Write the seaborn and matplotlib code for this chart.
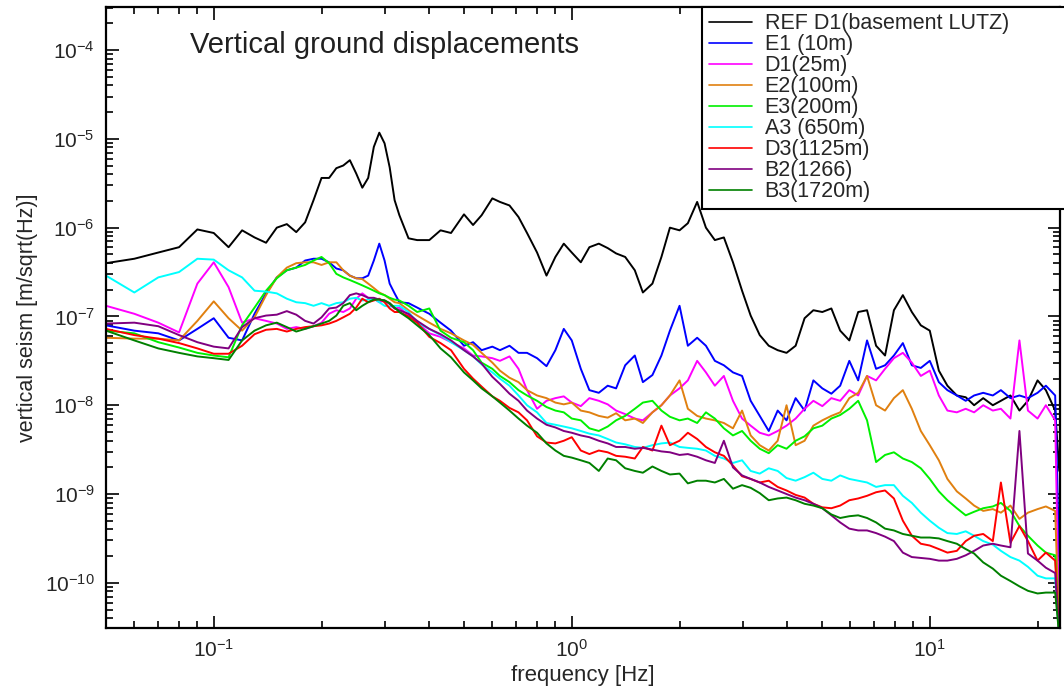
import numpy as np
import pandas as pd
import matplotlib
matplotlib.use("Agg")
import matplotlib.pyplot as plt
import seaborn as sns
from matplotlib.ticker import FixedLocator, NullFormatter, LogFormatterMathtext

# --- data (log10 of amplitude, m/sqrt(Hz)) ---

freq_hz = [0.05, 0.06, 0.07, 0.08, 0.09, 0.10, 0.11, 0.12, 0.13, 0.14,
           0.15, 0.16, 0.17, 0.18, 0.19, 0.20, 0.21, 0.22, 0.23, 0.24,
           0.25, 0.26, 0.27, 0.28, 0.29, 0.30, 0.31, 0.32, 0.33, 0.35,
           0.37, 0.40,
           0.43, 0.46, 0.50, 0.53, 0.56, 0.60, 0.63, 0.67, 0.71, 0.75,
           0.80, 0.85, 0.90, 0.95, 1.0, 1.06, 1.12, 1.19, 1.26, 1.33,
           1.41, 1.5, 1.58, 1.68, 1.78, 1.88, 2.0, 2.11, 2.24, 2.37,
           2.51, 2.66, 2.82, 2.99, 3.16, 3.35, 3.55, 3.76, 3.98, 4.22,
           4.47, 4.73, 5.01, 5.31, 5.62, 5.96, 6.31, 6.68, 7.08, 7.5,
           7.94, 8.41, 8.91, 9.44, 10.0, 10.6, 11.2, 11.9, 12.6, 13.3,
           14.1, 15.0, 15.8, 16.8, 17.8, 18.8, 20.0, 21.1, 22.4, 23.0]

ref_d1 = [-6.40, -6.35, -6.28, -6.22, -6.02, -6.06, -6.22, -6.03, -6.11, -6.17,
          -6.00, -5.96, -6.05, -5.94, -5.69, -5.44, -5.44, -5.33, -5.30, -5.24,
          -5.39, -5.55, -5.44, -5.09, -4.93, -5.05, -5.32, -5.69, -5.86, -6.12,
          -6.14, -6.14,
          -6.03, -6.06, -5.85, -5.97, -5.86, -5.67, -5.71, -5.75, -5.88, -6.06,
          -6.28, -6.54, -6.33, -6.18, -6.28, -6.39, -6.22, -6.18, -6.23, -6.29,
          -6.33, -6.48, -6.73, -6.63, -6.33, -6.00, -6.03, -5.95, -5.71, -6.00,
          -6.14, -6.11, -6.39, -6.71, -6.99, -7.21, -7.33, -7.38, -7.41, -7.33,
          -7.02, -6.93, -6.95, -6.91, -7.16, -7.27, -6.95, -6.93, -7.33, -7.44,
          -6.93, -6.76, -6.95, -7.10, -7.16, -7.61, -7.78, -7.89, -7.91, -8.00,
          -7.92, -8.00, -7.95, -7.89, -8.06, -7.95, -7.72, -7.83, -8.06, -8.74]

e1_10m = [-7.10, -7.16, -7.19, -7.27, -7.14, -7.02, -7.24, -7.27, -6.97, -6.74,
          -6.56, -6.48, -6.45, -6.37, -6.35, -6.35, -6.39, -6.46, -6.48, -6.54,
          -6.57, -6.57, -6.54, -6.37, -6.18, -6.37, -6.63, -6.74, -6.84, -6.85,
          -6.90, -6.97,
          -7.07, -7.16, -7.33, -7.29, -7.38, -7.34, -7.38, -7.33, -7.41, -7.41,
          -7.47, -7.56, -7.38, -7.14, -7.27, -7.59, -7.83, -7.86, -7.78, -7.81,
          -7.55, -7.44, -7.74, -7.66, -7.44, -7.16, -6.88, -7.33, -7.24, -7.33,
          -7.50, -7.55, -7.63, -7.67, -7.95, -8.12, -8.29, -8.06, -8.17, -7.92,
          -8.06, -7.72, -7.81, -7.87, -7.78, -7.50, -7.72, -7.27, -7.59, -7.55,
          -7.44, -7.30, -7.55, -7.58, -7.50, -7.74, -7.83, -7.89, -7.95, -7.89,
          -7.86, -7.89, -7.83, -7.92, -7.89, -7.92, -7.86, -7.78, -7.89, -9.75]

d1_25m = [-6.88, -6.97, -7.07, -7.18, -6.63, -6.39, -6.67, -7.07, -7.02, -7.05,
          -7.08, -7.14, -7.12, -7.14, -7.11, -7.07, -6.97, -6.93, -6.95, -6.91,
          -6.80, -6.74, -6.79, -6.80, -6.84, -6.82, -6.85, -6.91, -6.90, -6.99,
          -7.07, -7.19,
          -7.23, -7.29, -7.36, -7.44, -7.45, -7.47, -7.50, -7.45, -7.59, -7.83,
          -8.04, -7.95, -7.92, -7.90, -7.97, -8.01, -7.92, -7.95, -7.99, -8.06,
          -8.10, -8.15, -8.17, -8.08, -8.00, -7.89, -7.81, -7.72, -7.50, -7.63,
          -7.78, -7.67, -7.95, -8.15, -8.23, -8.31, -8.34, -8.29, -8.23, -8.15,
          -8.04, -7.95, -8.01, -7.92, -7.95, -7.83, -7.89, -7.67, -7.72, -7.59,
          -7.47, -7.41, -7.52, -7.67, -7.61, -7.89, -8.06, -8.08, -8.04, -8.08,
          -8.00, -8.06, -8.04, -8.15, -7.27, -8.06, -8.15, -8.00, -8.17, -10.6]

e2_100m = [-7.24, -7.25, -7.25, -7.27, -7.05, -6.83, -7.02, -7.16, -7.01, -6.76,
           -6.56, -6.45, -6.40, -6.39, -6.39, -6.42, -6.39, -6.39, -6.48, -6.54,
           -6.57, -6.58, -6.63, -6.68, -6.73, -6.76, -6.80, -6.84, -6.85, -6.93,
           -6.99, -7.07,
           -7.14, -7.19, -7.27, -7.32, -7.41, -7.52, -7.61, -7.69, -7.74, -7.83,
           -7.89, -7.92, -7.97, -7.99, -7.97, -8.06, -8.08, -8.12, -8.14, -8.09,
           -8.17, -8.15, -8.20, -8.08, -8.00, -7.89, -7.72, -8.04, -8.12, -8.15,
           -8.17, -8.20, -8.26, -8.06, -8.34, -8.45, -8.51, -8.40, -8.00, -8.45,
           -8.40, -8.23, -8.17, -8.12, -8.08, -7.92, -7.86, -7.67, -8.00, -8.06,
           -7.92, -7.83, -8.04, -8.29, -8.45, -8.62, -8.83, -8.97, -9.05, -9.13,
           -9.19, -9.17, -9.21, -9.13, -9.28, -9.21, -9.17, -9.14, -9.19, -10.6]

e3_200m = [-7.16, -7.19, -7.29, -7.35, -7.41, -7.44, -7.46, -7.10, -6.90, -6.71,
           -6.57, -6.48, -6.45, -6.42, -6.37, -6.33, -6.40, -6.52, -6.56, -6.59,
           -6.62, -6.65, -6.68, -6.71, -6.74, -6.76, -6.79, -6.81, -6.82, -6.88,
           -6.95, -6.91,
           -7.16, -7.24, -7.29, -7.38, -7.52, -7.59, -7.67, -7.74, -7.83, -7.89,
           -7.95, -8.02, -8.06, -8.08, -8.15, -8.17, -8.26, -8.29, -8.24, -8.17,
           -8.12, -8.04, -7.97, -7.95, -8.06, -8.13, -8.17, -8.15, -8.20, -8.08,
           -8.15, -8.26, -8.34, -8.29, -8.40, -8.49, -8.54, -8.45, -8.49, -8.40,
           -8.35, -8.26, -8.23, -8.15, -8.11, -8.04, -7.95, -8.17, -8.64, -8.56,
           -8.53, -8.60, -8.64, -8.71, -8.83, -8.97, -9.07, -9.16, -9.24, -9.20,
           -9.16, -9.14, -9.10, -9.19, -9.36, -9.47, -9.58, -9.66, -9.69, -10.6]

a3_650m = [-6.54, -6.73, -6.56, -6.50, -6.35, -6.36, -6.48, -6.56, -6.71, -6.72,
           -6.74, -6.80, -6.84, -6.85, -6.88, -6.85, -6.88, -6.85, -6.84, -6.80,
           -6.79, -6.82, -6.81, -6.80, -6.84, -6.88, -6.89, -6.88, -6.88, -6.95,
           -7.07, -7.14,
           -7.21, -7.29, -7.38, -7.45, -7.54, -7.63, -7.70, -7.78, -7.89, -8.00,
           -8.08, -8.20, -8.22, -8.24, -8.26, -8.29, -8.32, -8.34, -8.38, -8.42,
           -8.44, -8.47, -8.48, -8.45, -8.43, -8.42, -8.47, -8.48, -8.49, -8.51,
           -8.57, -8.60, -8.65, -8.62, -8.74, -8.77, -8.71, -8.74, -8.82, -8.85,
           -8.81, -8.76, -8.83, -8.85, -8.79, -8.83, -8.85, -8.87, -8.92, -8.90,
           -8.90, -9.02, -9.10, -9.21, -9.30, -9.38, -9.44, -9.45, -9.42, -9.47,
           -9.53, -9.57, -9.64, -9.71, -9.75, -9.82, -9.92, -9.95, -9.95, -10.6]

d3_1125m = [-7.14, -7.21, -7.25, -7.30, -7.36, -7.42, -7.42, -7.33, -7.20, -7.15,
            -7.14, -7.17, -7.14, -7.12, -7.11, -7.10, -7.08, -7.05, -7.01, -6.97,
            -6.90, -6.80, -6.84, -6.82, -6.80, -6.84, -6.91, -6.95, -6.95, -7.00,
            -7.07, -7.23,
            -7.30, -7.38, -7.59, -7.70, -7.79, -7.90, -7.95, -8.03, -8.08, -8.17,
            -8.35, -8.42, -8.43, -8.40, -8.36, -8.51, -8.55, -8.51, -8.53, -8.57,
            -8.58, -8.60, -8.47, -8.51, -8.23, -8.45, -8.40, -8.31, -8.38, -8.47,
            -8.53, -8.57, -8.68, -8.80, -8.83, -8.87, -8.85, -8.92, -8.96, -9.01,
            -9.04, -9.11, -9.15, -9.16, -9.13, -9.07, -9.05, -9.02, -8.98, -8.96,
            -9.05, -9.30, -9.47, -9.56, -9.58, -9.62, -9.66, -9.64, -9.53, -9.47,
            -9.45, -9.53, -8.87, -9.55, -9.36, -9.53, -9.75, -9.66, -9.75, -10.6]

b2_1266m = [-7.08, -7.07, -7.11, -7.21, -7.29, -7.34, -7.36, -7.12, -7.02, -6.99,
            -6.98, -6.94, -6.98, -7.05, -7.08, -7.01, -6.91, -6.90, -6.85, -6.76,
            -6.74, -6.76, -6.79, -6.79, -6.81, -6.82, -6.86, -6.91, -6.93, -6.97,
            -7.05, -7.14,
            -7.20, -7.27, -7.38, -7.45, -7.53, -7.68, -7.76, -7.87, -7.95, -8.06,
            -8.15, -8.22, -8.25, -8.29, -8.31, -8.34, -8.36, -8.40, -8.43, -8.47,
            -8.47, -8.49, -8.48, -8.50, -8.52, -8.53, -8.56, -8.55, -8.58, -8.62,
            -8.65, -8.40, -8.70, -8.79, -8.83, -8.87, -8.92, -8.96, -9.00, -9.04,
            -9.07, -9.11, -9.16, -9.24, -9.32, -9.39, -9.41, -9.41, -9.44, -9.48,
            -9.53, -9.66, -9.71, -9.72, -9.73, -9.75, -9.75, -9.73, -9.69, -9.64,
            -9.58, -9.56, -9.58, -9.60, -8.29, -9.67, -9.75, -9.83, -9.89, -10.6]

b3_1720m = [-7.16, -7.27, -7.36, -7.41, -7.45, -7.47, -7.49, -7.27, -7.16, -7.10,
            -7.07, -7.12, -7.17, -7.14, -7.11, -7.08, -7.05, -6.99, -6.88, -6.85,
            -6.93, -6.88, -6.84, -6.81, -6.81, -6.82, -6.85, -6.90, -6.95, -7.02,
            -7.10, -7.21,
            -7.36, -7.46, -7.63, -7.72, -7.81, -7.90, -7.97, -8.06, -8.15, -8.23,
            -8.31, -8.43, -8.51, -8.57, -8.59, -8.62, -8.65, -8.74, -8.60, -8.62,
            -8.71, -8.74, -8.76, -8.69, -8.74, -8.78, -8.77, -8.88, -8.85, -8.85,
            -8.87, -8.83, -8.94, -8.90, -8.93, -8.99, -9.07, -9.05, -9.04, -9.07,
            -9.11, -9.13, -9.16, -9.23, -9.27, -9.25, -9.24, -9.27, -9.32, -9.39,
            -9.41, -9.45, -9.47, -9.49, -9.49, -9.50, -9.53, -9.56, -9.62, -9.67,
            -9.77, -9.84, -9.92, -9.98, -10.04, -10.09, -10.12, -10.11, -10.11, -10.6]

station_labels = ["REF D1(basement LUTZ)", "E1 (10m)", "D1(25m)", "E2(100m)",
                  "E3(200m)", "A3 (650m)", "D3(1125m)", "B2(1266)", "B3(1720m)"]
station_colors = ["#000000", "#0000ff", "#ff00ff", "#e08010", "#00f000",
                  "#00ffff", "#ff0000", "#800080", "#008000"]

series = [ref_d1, e1_10m, d1_25m, e2_100m, e3_200m, a3_650m, d3_1125m, b2_1266m, b3_1720m]

x_major = [0.1, 1.0, 10.0]
y_major = [1e-10, 1e-9, 1e-8, 1e-7, 1e-6, 1e-5, 1e-4]

# long-form table for seaborn
frames = []
for label, log_vals in zip(station_labels, series):
    frames.append(pd.DataFrame({
        "frequency": freq_hz,
        "seism": 10.0 ** np.array(log_vals),
        "station": label,
    }))
df = pd.concat(frames, ignore_index=True)

# --- style ---
sns.set_style("ticks")
plt.rcParams["font.family"] = ["Liberation Sans", "DejaVu Sans"]
plt.rcParams["mathtext.fontset"] = "custom"
plt.rcParams["mathtext.rm"] = "Liberation Sans"
plt.rcParams["mathtext.it"] = "Liberation Sans:italic"
plt.rcParams["mathtext.bf"] = "Liberation Sans:bold"
plt.rcParams["mathtext.default"] = "regular"

fig = plt.figure(figsize=(10.64, 6.9), dpi=100)
ax = fig.add_axes([0.0996, 0.0899, 0.8966, 0.9])

sns.lineplot(data=df, x="frequency", y="seism", hue="station",
             hue_order=station_labels, palette=station_colors,
             estimator=None, sort=False, lw=1.4, ax=ax)

ax.set_xscale("log")
ax.set_yscale("log")
ax.set_xlim(0.05, 23.1)
ax.set_ylim(3.1e-11, 3.06e-4)

# minor ticks at 2..9 of each decade that falls inside the view
x_minor = [m * d for d in [0.01, 0.1, 1.0, 10.0] for m in range(2, 10)]
x_minor = [v for v in x_minor if 0.05 <= v <= 23.1]
y_minor = [m * 10.0 ** e for e in range(-11, -3) for m in range(2, 10)]
y_minor = [v for v in y_minor if 3.1e-11 <= v <= 3.06e-4]

ax.xaxis.set_major_locator(FixedLocator(x_major))
ax.xaxis.set_minor_locator(FixedLocator(x_minor))
ax.xaxis.set_major_formatter(LogFormatterMathtext())
ax.xaxis.set_minor_formatter(NullFormatter())
ax.yaxis.set_major_locator(FixedLocator(y_major))
ax.yaxis.set_minor_locator(FixedLocator(y_minor))
ax.yaxis.set_major_formatter(LogFormatterMathtext())
ax.yaxis.set_minor_formatter(NullFormatter())

ax.tick_params(which="both", direction="in", top=True, right=True,
               color="black", width=1.2)
ax.tick_params(which="major", length=9, labelsize=15, pad=8)
ax.tick_params(which="minor", length=5)
for side in ["top", "right", "bottom", "left"]:
    ax.spines[side].set_visible(True)
    ax.spines[side].set_color("black")
    ax.spines[side].set_linewidth(1.6)

ax.set_xlabel("frequency [Hz]", fontsize=16, labelpad=3)
ax.set_ylabel("vertical seism [m/sqrt(Hz)]", fontsize=15.5, labelpad=5)

ax.text(0.292, 0.939, "Vertical ground displacements", transform=ax.transAxes,
        ha="center", va="center", fontsize=21, color="#202020")

# legend box runs past the right edge of the figure, as in the original
handles, labels = ax.get_legend_handles_labels()
leg = ax.legend(handles, labels, loc="upper left",
                bbox_to_anchor=(0.625, 0.0, 0.40, 1.0), mode="expand",
                frameon=True, fancybox=False, framealpha=1, edgecolor="black",
                fontsize=15.5, labelspacing=0.0, handlelength=2.0,
                handletextpad=0.6, borderpad=0.3, borderaxespad=0)
leg.get_frame().set_linewidth(1.5)
for line in leg.get_lines():
    line.set_linewidth(1.2)

fig.savefig("out.png", dpi=100)
